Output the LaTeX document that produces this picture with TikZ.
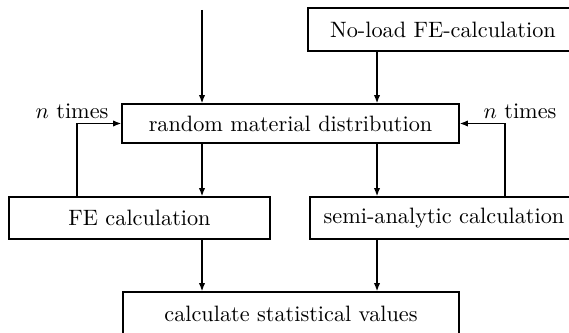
\documentclass[tikz,border=0pt]{standalone}
\usepackage{amsmath, amssymb}
\usepackage{tikz}
\usetikzlibrary{arrows.meta, positioning, calc}

\newlength\pxu
\setlength\pxu{0.0158cm}

\begin{document}
\begin{tikzpicture}[x=\pxu, y=-\pxu,
    box/.style={rectangle, draw, line width=0.6pt, inner sep=0pt, minimum height=42\pxu},
    flow/.style={-{Latex[length=1.3mm, width=1mm]}, line width=0.6pt}]
    \useasboundingbox (0,0) rectangle (569,333);

    % boxes
    \node[box, minimum width=270\pxu, minimum height=43\pxu] (noload) at (443, 29.5) {No-load FE-calculation};
    \node[box, minimum width=337\pxu, minimum height=39\pxu] (random) at (290.5, 123.5) {random material distribution};
    \node[box, minimum width=261\pxu] (fe) at (139.5, 218) {FE calculation};
    \node[box, minimum width=268\pxu] (semi) at (444, 218) {semi-analytic calculation};
    \node[box, minimum width=336\pxu, minimum height=44\pxu] (stats) at (291, 314) {calculate statistical values};

    % columns and loop corners
    \coordinate (start) at (202, 10);
    \coordinate (colR) at (377, 10);
    \coordinate (loopL) at (77, 123.5);
    \coordinate (loopR) at (505, 123.5);

    % main flow
    \draw[flow] (start) -- (random.north -| start);
    \draw[flow] (noload.south -| colR) -- (random.north -| colR);
    \draw[flow] (random.south -| start) -- (fe.north -| start);
    \draw[flow] (random.south -| colR) -- (semi.north -| colR);
    \draw[flow] (fe.south -| start) -- (stats.north -| start);
    \draw[flow] (semi.south -| colR) -- (stats.north -| colR);

    % repeat loops
    \draw[flow] (fe.north -| loopL) |- (random.west);
    \draw[flow] (semi.north -| loopR) |- (random.east);
    \node (nleft) at (72, 111) {$n$ times};
    \node (nright) at (520, 111) {$n$ times};
\end{tikzpicture}
\end{document}
